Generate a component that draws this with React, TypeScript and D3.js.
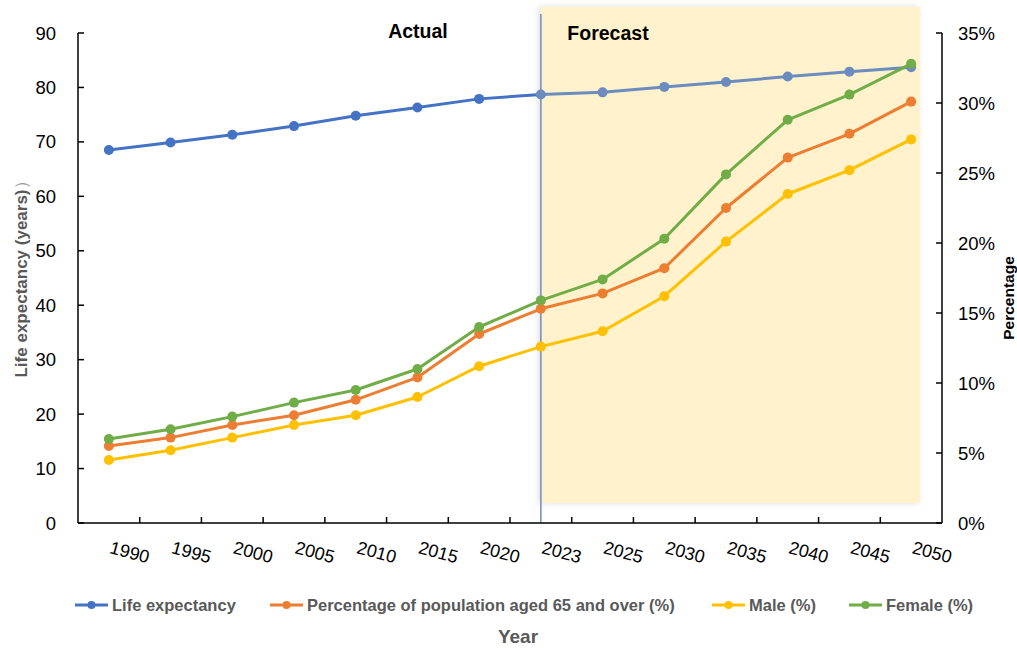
import React from "react";
import * as d3 from "d3";

const years = ["1990", "1995", "2000", "2005", "2010", "2015", "2020", "2023", "2025", "2030", "2035", "2040", "2045", "2050"];
const lifeExpectancy = [68.5, 69.9, 71.3, 72.9, 74.8, 76.3, 77.9, 78.7, 79.1, 80.1, 81.0, 82.0, 82.9, 83.7];
const aged65 = [5.5, 6.1, 7.0, 7.7, 8.8, 10.4, 13.5, 15.3, 16.4, 18.2, 22.5, 26.1, 27.8, 30.1];
const male = [4.5, 5.2, 6.1, 7.0, 7.7, 9.0, 11.2, 12.6, 13.7, 16.2, 20.1, 23.5, 25.2, 27.4];
const female = [6.0, 6.7, 7.6, 8.6, 9.5, 11.0, 14.0, 15.9, 17.4, 20.3, 24.9, 28.8, 30.6, 32.8];
const leftTicks = [0, 10, 20, 30, 40, 50, 60, 70, 80, 90];
const rightTicks = [0, 5, 10, 15, 20, 25, 30, 35];
const forecastStart = "2023";

const seriesNames = ["Life expectancy", "Percentage of population aged 65 and over (%)", "Male (%)", "Female (%)"];
const colors = ["#4472C4", "#ED7D31", "#FFC000", "#70AD47"];
const forecastBlue = "#6C8BBE";

export default function App() {
  const W = 1017, H = 648;
  const left = 78, right = 942, top = 33, bottom = 523;
  const x = d3.scaleBand<string>().domain(years).range([left, right]).padding(0);
  const cx = (y: string) => (x(y) as number) + x.bandwidth() / 2;
  const yL = d3.scaleLinear().domain([0, 90]).range([bottom, top]);
  const yR = d3.scaleLinear().domain([0, 35]).range([bottom, top]);

  const lineL = d3.line<[string, number]>().x((d) => cx(d[0])).y((d) => yL(d[1]));
  const lineR = d3.line<[string, number]>().x((d) => cx(d[0])).y((d) => yR(d[1]));

  const fIdx = years.indexOf(forecastStart);
  const lifePairs: [string, number][] = years.map((y, i) => [y, lifeExpectancy[i]]);
  const lifeActual = lifePairs.slice(0, fIdx + 1);
  const lifeForecast = lifePairs.slice(fIdx);

  const pctSeries = [
    { vals: aged65, color: colors[1] },
    { vals: male, color: colors[2] },
    { vals: female, color: colors[3] },
  ];

  const fx = cx(forecastStart);
  const font = "Arial, 'Liberation Sans', Helvetica, sans-serif";
  const gray = "#595959";

  const legendItems = [
    { lx: 75, tx: 112 },
    { lx: 270, tx: 307 },
    { lx: 712, tx: 749 },
    { lx: 849, tx: 886 },
  ];

  return (
    <div style={{ position: "absolute", left: 0, top: 0 }}>
      <svg width={W} height={H} style={{ display: "block", fontFamily: font }}>
        <defs>
          <filter id="shadow" x="-5%" y="-5%" width="110%" height="110%">
            <feDropShadow dx="-2" dy="0" stdDeviation="3" floodColor="#999" floodOpacity="0.35" />
          </filter>
        </defs>
        <rect width={W} height={H} fill="#fff" />

        {/* forecast shading */}
        <rect x={fx} y={7} width={920 - fx} height={503 - 7} fill="#FFF2CC" filter="url(#shadow)" />
        <line x1={fx} x2={fx} y1={14} y2={bottom} stroke="#6F8CC0" strokeWidth={1.5} />

        {/* life expectancy */}
        <path d={lineL(lifeActual) || ""} fill="none" stroke={colors[0]} strokeWidth={3} strokeLinejoin="round" />
        <path d={lineL(lifeForecast) || ""} fill="none" stroke={forecastBlue} strokeWidth={3} strokeLinejoin="round" />
        {lifePairs.map((d, i) => (
          <circle key={"le" + i} cx={cx(d[0])} cy={yL(d[1])} r={5} fill={i >= fIdx ? forecastBlue : colors[0]} />
        ))}

        {/* percentage series */}
        {pctSeries.map((s, si) => {
          const pairs: [string, number][] = years.map((y, i) => [y, s.vals[i]]);
          return (
            <g key={si}>
              <path d={lineR(pairs) || ""} fill="none" stroke={s.color} strokeWidth={3} strokeLinejoin="round" />
              {pairs.map((d, i) => (
                <circle key={i} cx={cx(d[0])} cy={yR(d[1])} r={5} fill={s.color} />
              ))}
            </g>
          );
        })}

        <text x={418} y={38} textAnchor="middle" fontSize={19.5} fontWeight="bold" fill="#000">Actual</text>
        <text x={608} y={40} textAnchor="middle" fontSize={19.5} fontWeight="bold" fill="#000">Forecast</text>

        {/* axes */}
        <line x1={left} x2={left} y1={top} y2={bottom} stroke="#000" strokeWidth={1.5} />
        <line x1={right} x2={right} y1={top} y2={bottom} stroke="#000" strokeWidth={1.5} />
        <line x1={left} x2={right} y1={bottom} y2={bottom} stroke="#000" strokeWidth={1.5} />

        {leftTicks.map((t) => (
          <g key={"l" + t}>
            <line x1={left} x2={left + 6} y1={yL(t)} y2={yL(t)} stroke="#000" strokeWidth={1.5} />
            <text x={56} y={yL(t) + 6.5} textAnchor="end" fontSize={18.5} fill="#000">{t}</text>
          </g>
        ))}
        {rightTicks.map((t) => (
          <g key={"r" + t}>
            <line x1={right - 6} x2={right} y1={yR(t)} y2={yR(t)} stroke="#000" strokeWidth={1.5} />
            <text x={958} y={yR(t) + 6.5} textAnchor="start" fontSize={18.5} fill="#000">{t + "%"}</text>
          </g>
        ))}
        {years.slice(1).map((yv) => (
          <line key={"xt" + yv} x1={x(yv) as number} x2={x(yv) as number} y1={bottom} y2={bottom - 6} stroke="#000" strokeWidth={1.5} />
        ))}
        {years.map((yv) => (
          <text key={"xl" + yv} transform={`translate(${cx(yv)},${553}) rotate(15)`} textAnchor="start" fontSize={18} fill="#000">{yv}</text>
        ))}

        {/* axis titles */}
        <text transform={`translate(27,275) rotate(-90)`} textAnchor="middle" fontSize={17} fontWeight="bold" fill={gray}>
          Life expectancy (years)<tspan fontWeight="normal" fill="#999">）</tspan>
        </text>
        <text transform={`translate(1014,298) rotate(-90)`} textAnchor="middle" fontSize={15.5} fontWeight="bold" fill="#000">Percentage</text>
        <text x={518} y={643} textAnchor="middle" fontSize={19} fontWeight="bold" fill={gray}>Year</text>

        {/* legend */}
        {legendItems.map((it, i) => (
          <g key={"lg" + i}>
            <line x1={it.lx} x2={it.lx + 33} y1={605} y2={605} stroke={colors[i]} strokeWidth={3} />
            <circle cx={it.lx + 16.5} cy={605} r={4} fill={colors[i]} />
            <text x={it.tx} y={611} fontSize={16.5} fontWeight="bold" fill={gray}>{seriesNames[i]}</text>
          </g>
        ))}
      </svg>
    </div>
  );
}
